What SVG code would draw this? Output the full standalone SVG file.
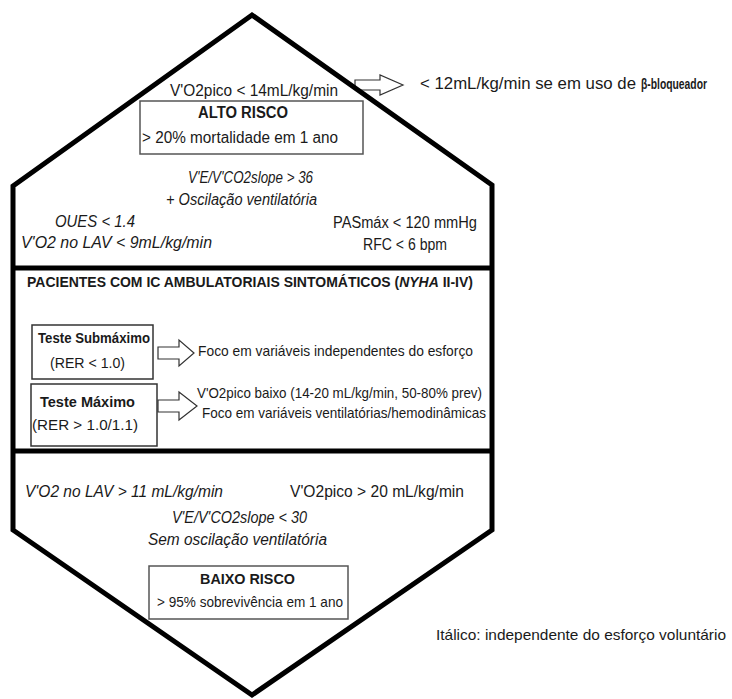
<svg xmlns="http://www.w3.org/2000/svg" width="732" height="699" viewBox="0 0 732 699">
<style>
text{font-family:"Liberation Sans",Arial,sans-serif;fill:#1a1a1a;}
.c{font-size:16px;}
.n{font-size:15px;}
.b{font-weight:bold;}
.i{font-style:italic;}
.hex{fill:#fff;stroke:#000;stroke-width:5;stroke-linejoin:miter;}
.div{stroke:#000;stroke-width:5;}
.box{fill:#fff;stroke:#555;stroke-width:1.5;}
.arr{fill:#fff;stroke:#333;stroke-width:1.2;stroke-linejoin:miter;}
</style>
<rect width="732" height="699" fill="#fff"/>
<g id="connectors">
  <path class="arr" d="M355,80 L380,80 L380,75 L403,85 L380,95 L380,90 L355,90 Z"/>
</g>
<g id="hexagon">
  <path class="hex" d="M252,15 L492,185 L492,530 L252,695 L13,530 L13,186 Z"/>
  <line class="div" x1="13" y1="268" x2="492" y2="268"/>
  <line class="div" x1="13" y1="451" x2="492" y2="451"/>
</g>
<g id="connectors-inner">
  <path class="arr" d="M158,347 L179,347 L179,340 L194,353 L179,366 L179,359 L158,359 Z"/>
  <path class="arr" d="M158,400 L179,400 L179,392 L197,406 L179,420 L179,412 L158,412 Z"/>
</g>
<g id="high-risk-criteria">
  <text class="c" x="170" y="96" textLength="168" lengthAdjust="spacingAndGlyphs">V'O2pico &lt; 14mL/kg/min</text>
  <text class="c i" x="188" y="183" textLength="125" lengthAdjust="spacingAndGlyphs">V'E/V'CO2slope &gt; 36</text>
  <text class="c i" x="166" y="205" textLength="151" lengthAdjust="spacingAndGlyphs">+ Oscilação ventilatória</text>
  <text class="c i" x="55" y="227" textLength="80" lengthAdjust="spacingAndGlyphs">OUES &lt; 1.4</text>
  <text class="c i" x="21" y="248" textLength="191" lengthAdjust="spacingAndGlyphs">V'O2 no LAV &lt; 9mL/kg/min</text>
  <text class="c" x="333" y="228" textLength="144" lengthAdjust="spacingAndGlyphs">PASmáx &lt; 120 mmHg</text>
  <text class="c" x="363" y="250" textLength="84" lengthAdjust="spacingAndGlyphs">RFC &lt; 6 bpm</text>
</g>
<g id="beta-blocker-note">
  <text class="c" x="420" y="89" textLength="216" lengthAdjust="spacingAndGlyphs">&lt; 12mL/kg/min se em uso de</text>
  <text class="b" x="641" y="89" font-size="14" textLength="66" lengthAdjust="spacingAndGlyphs">β-bloqueador</text>
</g>
<g id="alto-risco">
  <rect class="box" x="140" y="101" width="223" height="53"/>
  <text class="c b" x="198" y="118" textLength="90" lengthAdjust="spacingAndGlyphs">ALTO RISCO</text>
  <text class="c" x="142" y="143" textLength="196" lengthAdjust="spacingAndGlyphs">&gt; 20% mortalidade em 1 ano</text>
</g>
<g id="pacientes-title">
  <text class="n b" x="27" y="287" textLength="446" lengthAdjust="spacingAndGlyphs">PACIENTES COM IC AMBULATORIAIS SINTOMÁTICOS (<tspan class="i">NYHA</tspan> II-IV)</text>
</g>
<g id="teste-submaximo">
  <rect class="box" x="32" y="325" width="121" height="54" style="stroke:#333"/>
  <text class="n b" x="38" y="343" textLength="112" lengthAdjust="spacingAndGlyphs">Teste Submáximo</text>
  <text class="n" x="50" y="368" textLength="75" lengthAdjust="spacingAndGlyphs">(RER &lt; 1.0)</text>
</g>
<g id="teste-maximo">
  <rect class="box" x="31" y="384" width="126" height="62" style="stroke:#333"/>
  <text class="n b" x="40" y="407" textLength="95" lengthAdjust="spacingAndGlyphs">Teste Máximo</text>
  <text class="n" x="32" y="430" textLength="106" lengthAdjust="spacingAndGlyphs">(RER &gt; 1.0/1.1)</text>
</g>
<g id="foco-submaximo">
  <text class="n" x="198" y="356" textLength="275" lengthAdjust="spacingAndGlyphs">Foco em variáveis independentes do esforço</text>
</g>
<g id="foco-maximo">
  <text class="n" x="197" y="398" textLength="285" lengthAdjust="spacingAndGlyphs">V'O2pico baixo (14-20 mL/kg/min, 50-80% prev)</text>
  <text class="n" x="202" y="418" textLength="284" lengthAdjust="spacingAndGlyphs">Foco em variáveis ventilatórias/hemodinâmicas</text>
</g>
<g id="low-risk-criteria">
  <text class="c i" x="25" y="497" textLength="198" lengthAdjust="spacingAndGlyphs">V'O2 no LAV &gt; 11 mL/kg/min</text>
  <text class="c" x="290" y="497" textLength="174" lengthAdjust="spacingAndGlyphs">V'O2pico &gt; 20 mL/kg/min</text>
  <text class="c i" x="172" y="523" textLength="135" lengthAdjust="spacingAndGlyphs">V'E/V'CO2slope &lt; 30</text>
  <text class="c i" x="148" y="545" textLength="179" lengthAdjust="spacingAndGlyphs">Sem oscilação ventilatória</text>
</g>
<g id="baixo-risco">
  <rect class="box" x="149" y="566" width="199" height="53"/>
  <text class="n b" x="200" y="584" textLength="95" lengthAdjust="spacingAndGlyphs">BAIXO RISCO</text>
  <text class="n" x="157" y="607" textLength="186" lengthAdjust="spacingAndGlyphs">&gt; 95% sobrevivência em 1 ano</text>
</g>
<g id="legend">
  <text x="436" y="640" font-size="14.5" textLength="290" lengthAdjust="spacingAndGlyphs">Itálico: independente do esforço voluntário</text>
</g>
</svg>
